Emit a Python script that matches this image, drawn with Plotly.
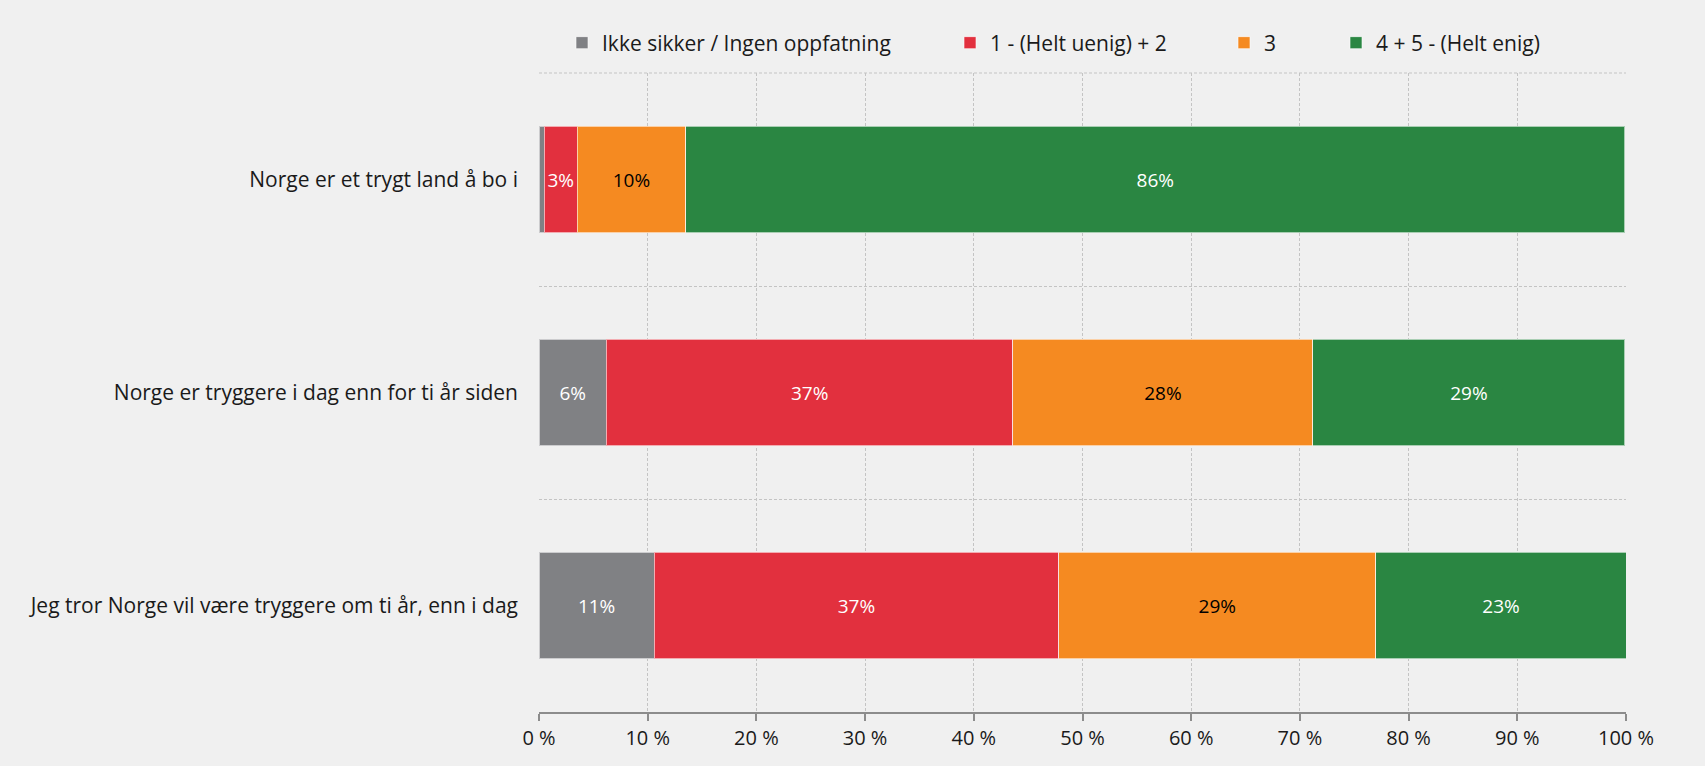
import plotly.graph_objects as go

categories = [
    "Norge er et trygt land å bo i",
    "Norge er tryggere i dag enn for ti år siden",
    "Jeg tror Norge vil være tryggere om ti år, enn i dag",
]
series_names = [
    "Ikke sikker / Ingen oppfatning",
    "1 - (Helt uenig) + 2",
    "3",
    "4 + 5 - (Helt enig)",
]
ikke_sikker = [0.5, 6.2, 10.6]
uenig = [3.0, 37.4, 37.2]
noytral = [10.0, 27.6, 29.2]
enig = [86.4, 28.7, 23.0]

tick_vals = [0, 10, 20, 30, 40, 50, 60, 70, 80, 90, 100]

colors = ["#808184", "#e2303e", "#f58a21", "#2a8642"]
text_colors = ["#ffffff", "#ffffff", "#000000", "#ffffff"]
legend_ids = ["legend", "legend2", "legend3", "legend4"]

FONT = "Open Sans, Noto Sans, sans-serif"
GRID = "#c4c4c4"
DASH = "3px,2px"

fig = go.Figure()
for name, vals, col, tcol, lg in zip(series_names, [ikke_sikker, uenig, noytral, enig],
                                     colors, text_colors, legend_ids):
    labels = [f"{v:.0f}%" if v >= 1 else "" for v in vals]
    fig.add_trace(go.Bar(
        name=name, y=categories, x=vals, orientation="h",
        marker=dict(color=col, line=dict(color="rgba(255,255,255,0.6)", width=1)),
        text=labels, textposition="inside", insidetextanchor="middle",
        textangle=0, constraintext="none",
        textfont=dict(color=tcol, size=19, family=FONT),
        legend=lg, hoverinfo="skip", showlegend=True,
    ))

plot_left, plot_right, plot_top, plot_bottom = 539, 1626, 73, 712
W, H = 1705, 766
pw = plot_right - plot_left
ph = plot_bottom - plot_top

def lx(px):
    return (px - plot_left) / pw

ly = (plot_bottom - 43) / ph
text_starts = [601, 989, 1263, 1375]
legend_cfg = {}
for lg, ts in zip(legend_ids, text_starts):
    legend_cfg[lg] = dict(
        x=lx(ts - 39), xanchor="left", y=ly, yanchor="middle",
        orientation="h", bgcolor="rgba(0,0,0,0)", borderwidth=0,
        font=dict(size=21, color="#1a1a1a", family=FONT),
        itemwidth=30, tracegroupgap=0, visible=True,
    )

fig.update_layout(
    width=W, height=H,
    barmode="stack", bargap=0.5, showlegend=True,
    paper_bgcolor="#f0f0f0", plot_bgcolor="#f0f0f0",
    margin=dict(l=plot_left, r=W - plot_right, t=plot_top, b=H - plot_bottom, autoexpand=False),
    font=dict(family=FONT, color="#1a1a1a"),
    **legend_cfg,
)

# top edge grid line
fig.add_shape(type="line", xref="paper", yref="paper", x0=0, y0=1, x1=1, y1=1,
              line=dict(color=GRID, width=1, dash=DASH), layer="below")

fig.update_xaxes(
    range=[0, 100], tickvals=tick_vals, ticktext=[f"{v} %" for v in tick_vals],
    showgrid=True, gridcolor=GRID, gridwidth=1, griddash=DASH,
    showline=True, linecolor="#8c8c8c", linewidth=2,
    ticks="outside", ticklen=7, tickwidth=2, tickcolor="#8c8c8c",
    zeroline=False, tickfont=dict(size=20, color="#1a1a1a", family=FONT),
    fixedrange=True,
)
fig.update_yaxes(
    autorange="reversed", tickson="boundaries",
    showgrid=True, gridcolor=GRID, gridwidth=1, griddash=DASH,
    ticks="", showline=False, zeroline=False, ticklabelstandoff=20,
    tickfont=dict(size=21, color="#1a1a1a", family=FONT),
    fixedrange=True,
)

fig.write_html("out.html", config={"displayModeBar": False},
               post_script="document.body.style.margin='0';")
